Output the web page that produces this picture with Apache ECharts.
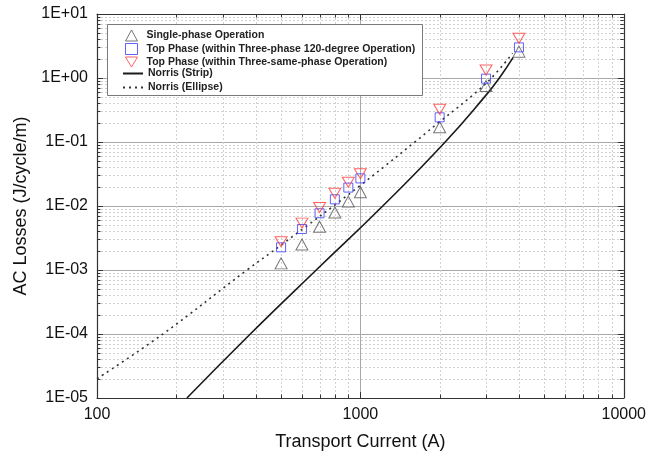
<!DOCTYPE html>
<html>
<head>
<meta charset="utf-8">
<script src="https://cdn.jsdelivr.net/npm/echarts@6/dist/echarts.min.js"></script>
<style>html,body{margin:0;padding:0;background:#fff}#c{width:649px;height:459px}</style>
</head>
<body>
<div id="c"></div>
<script>
// ---- data ----
var currents = [500, 600, 700, 800, 900, 1000, 2000, 3000, 4000];
var singlePhase = [1.27e-3, 2.5e-3, 4.75e-3, 7.9e-3, 1.17e-2, 1.64e-2, 0.17, 0.75, 2.58];
var top120 = [2.26e-3, 4.37e-3, 7.7e-3, 1.27e-2, 1.94e-2, 2.7e-2, 0.243, 0.977, 3.01];
var topSame = [2.77e-3, 5.4e-3, 9.5e-3, 1.58e-2, 2.35e-2, 3.2e-2, 0.324, 1.33, 4.17];

var stripI = [219.5, 382, 680, 1216, 2099, 3000, 3370, 3804];
var stripQ = [1e-5, 1e-4, 1e-3, 1e-2, 0.1, 0.54, 1.0, 2.1];
var ellipseI = [100, 178, 371, 500, 1000, 2000, 3000, 3783];
var ellipseQ = [2.0e-5, 1e-4, 1e-3, 2.45e-3, 0.021, 0.207, 0.826, 2.43];

var seriesNames = [
  'Single-phase Operation',
  'Top Phase (within Three-phase 120-degree Operation)',
  'Top Phase (within Three-same-phase Operation)',
  'Norris (Strip)',
  'Norris (Ellipse)'
];
var xTickLabels = ['100', '1000', '10000'];
var yTickLabels = ['1E-05', '1E-04', '1E-03', '1E-02', '1E-01', '1E+00', '1E+01'];
var xMinor = [200, 300, 400, 500, 600, 700, 800, 900, 2000, 3000, 4000, 5000, 6000, 7000, 8000, 9000];
var yMinor = [];
[1e-5, 1e-4, 1e-3, 1e-2, 1e-1, 1].forEach(function (d) {
  [2, 3, 4, 5, 6, 7, 8, 9].forEach(function (m) { yMinor.push(d * m); });
});

function pairs(xs, ys) { return xs.map(function (x, i) { return [x, ys[i]]; }); }

var chart = echarts.init(document.getElementById('c'), null, {renderer: 'canvas'});
var FONT = 'Liberation Sans, Arial, sans-serif';

function minorRender(isX) {
  return function (params, api) {
    var cs = params.coordSys;
    var v = api.value(0);
    var children = [];
    var tick = 3.5;
    if (isX) {
      var p = api.coord([v, 1]);
      var x = Math.round(p[0]) + 0.5;
      children.push({type: 'line', shape: {x1: x, y1: cs.y, x2: x, y2: cs.y + cs.height},
        style: {stroke: '#d2d2d2', lineWidth: 1, lineDash: [2, 2]}, silent: true});
      children.push({type: 'line', shape: {x1: x, y1: cs.y + cs.height, x2: x, y2: cs.y + cs.height - tick},
        style: {stroke: '#333', lineWidth: 1}, silent: true});
      children.push({type: 'line', shape: {x1: x, y1: cs.y, x2: x, y2: cs.y + tick},
        style: {stroke: '#333', lineWidth: 1}, silent: true});
    } else {
      var q = api.coord([1000, v]);
      var y = Math.round(q[1]) + 0.5;
      children.push({type: 'line', shape: {x1: cs.x, y1: y, x2: cs.x + cs.width, y2: y},
        style: {stroke: '#d2d2d2', lineWidth: 1, lineDash: [2, 2]}, silent: true});
      children.push({type: 'line', shape: {x1: cs.x, y1: y, x2: cs.x + tick, y2: y},
        style: {stroke: '#333', lineWidth: 1}, silent: true});
      children.push({type: 'line', shape: {x1: cs.x + cs.width, y1: y, x2: cs.x + cs.width - tick, y2: y},
        style: {stroke: '#333', lineWidth: 1}, silent: true});
    }
    return {type: 'group', children: children};
  };
}

var legendText = {fontFamily: FONT, fontSize: 10.5, fontWeight: 'bold', color: '#222', lineHeight: 11};
var axisLineStyle = {color: '#333', width: 1.2};
var option = {
  animation: false,
  backgroundColor: '#fff',
  grid: {left: 97, right: 23, top: 14, bottom: 61, show: false},
  graphic: [{
    type: 'rect', z: 50, silent: true,
    shape: {x: 107.5, y: 24.5, width: 315, height: 71},
    style: {fill: '#fff', stroke: '#7a7a7a', lineWidth: 1}
  }],
  legend: [{
    show: true, z: 60,
    data: [
      {name: seriesNames[0]},
      {name: seriesNames[1]},
      {name: seriesNames[2], icon: 'path://M0,0L12,0L6,10Z'}
    ],
    orient: 'vertical', left: 125, top: 29.5, padding: 0,
    itemWidth: 12, itemHeight: 11, itemGap: 1.5,
    itemStyle: {borderWidth: 1},
    textStyle: Object.assign({padding: [0, 0, 0, 4]}, legendText),
    selectedMode: false
  }, {
    show: true, z: 60,
    data: seriesNames.slice(3).map(function (n) { return {name: n, itemStyle: {opacity: 0}}; }),
    orient: 'vertical', left: 122, top: 68, padding: 0,
    itemWidth: 20, itemHeight: 11, itemGap: 3,
    textStyle: legendText,
    selectedMode: false
  }],
  xAxis: [{
    type: 'log', logBase: 10, min: 100, max: 10000, position: 'bottom',
    axisLine: {show: true, onZero: false, lineStyle: axisLineStyle},
    axisTick: {show: true, inside: true, length: 6, lineStyle: {color: '#333'}},
    axisLabel: {fontFamily: FONT, fontSize: 16, color: '#111', margin: 9,
      formatter: function (v) { return xTickLabels[Math.round(Math.log10(v)) - 2]; }},
    splitLine: {show: true, lineStyle: {color: '#a8a8a8', width: 1}},
    name: 'Transport Current (A)', nameLocation: 'middle', nameGap: 35,
    nameTextStyle: {fontFamily: FONT, fontSize: 18, color: '#111'}
  }, {
    type: 'log', logBase: 10, min: 100, max: 10000, position: 'top',
    axisLine: {show: true, onZero: false, lineStyle: axisLineStyle},
    axisTick: {show: true, inside: true, length: 6, lineStyle: {color: '#333'}},
    axisLabel: {show: false}, splitLine: {show: false}
  }],
  yAxis: [{
    type: 'log', logBase: 10, min: 1e-5, max: 10, position: 'left', splitNumber: 6,
    axisLine: {show: true, onZero: false, lineStyle: axisLineStyle},
    axisTick: {show: true, inside: true, length: 6, lineStyle: {color: '#333'}},
    axisLabel: {fontFamily: FONT, fontSize: 16, color: '#111', margin: 9,
      formatter: function (v) { return yTickLabels[Math.round(Math.log10(v)) + 5]; }},
    splitLine: {show: true, lineStyle: {color: '#a8a8a8', width: 1}},
    name: 'AC Losses (J/cycle/m)', nameLocation: 'middle', nameGap: 64,
    nameTextStyle: {fontFamily: FONT, fontSize: 18, color: '#111'}
  }, {
    type: 'log', logBase: 10, min: 1e-5, max: 10, position: 'right', splitNumber: 6,
    axisLine: {show: true, onZero: false, lineStyle: axisLineStyle},
    axisTick: {show: true, inside: true, length: 6, lineStyle: {color: '#333'}},
    axisLabel: {show: false}, splitLine: {show: false}
  }],
  series: [
    {type: 'custom', name: 'xminor', xAxisIndex: 0, yAxisIndex: 0, z: 1,
      renderItem: minorRender(true), data: xMinor.map(function (v) { return [v, 1]; }), silent: true},
    {type: 'custom', name: 'yminor', xAxisIndex: 0, yAxisIndex: 0, z: 1,
      renderItem: minorRender(false), data: yMinor.map(function (v) { return [v]; }),
      encode: {x: 0}, silent: true},
    {type: 'line', name: seriesNames[3], data: pairs(stripI, stripQ), symbol: 'none', z: 3,
      smooth: 0.5,
      lineStyle: {color: '#1a1a1a', width: 1.6, type: 'solid'}, itemStyle: {color: '#1a1a1a'}},
    {type: 'line', name: seriesNames[4], data: pairs(ellipseI, ellipseQ), symbol: 'none', z: 3,
      smooth: 0.4,
      lineStyle: {color: '#333', width: 1.6, type: [2, 4]}, itemStyle: {color: '#333'}},
    {type: 'scatter', name: seriesNames[0], data: pairs(currents, singlePhase), z: 4,
      symbol: 'triangle', symbolSize: [12, 11],
      itemStyle: {color: 'rgba(255,255,255,0)', borderColor: '#555', borderWidth: 1}},
    {type: 'scatter', name: seriesNames[1], data: pairs(currents, top120), z: 5,
      symbol: 'rect', symbolSize: 9,
      itemStyle: {color: 'rgba(255,255,255,0)', borderColor: '#3b3bff', borderWidth: 1}},
    {type: 'scatter', name: seriesNames[2], data: pairs(currents, topSame), z: 6,
      symbol: 'triangle', symbolRotate: 180, symbolSize: [12, 10],
      itemStyle: {color: 'rgba(255,255,255,0)', borderColor: '#ff3b3b', borderWidth: 1}}
  ]
};
chart.setOption(option);
</script>
</body>
</html>
